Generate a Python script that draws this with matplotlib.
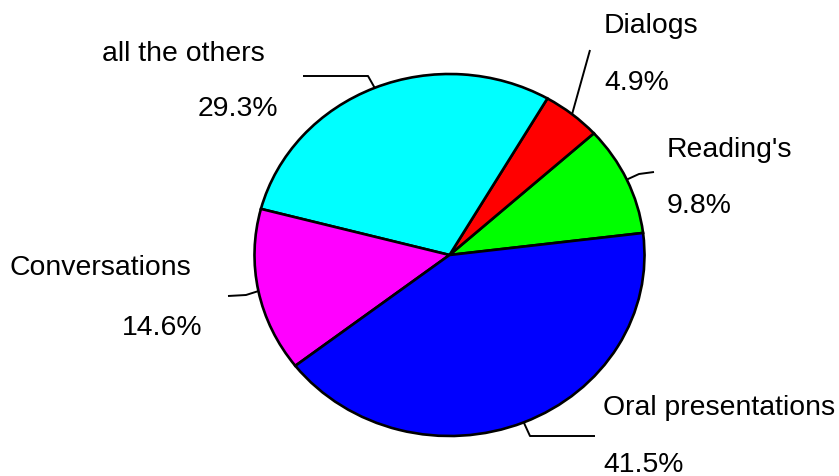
import numpy as np
import matplotlib
matplotlib.use("Agg")
import matplotlib.pyplot as plt

# ---- data ----
categories = ["Reading's", "Dialogs", "all the others", "Conversations", "Oral presentations"]
values = [9.8, 4.9, 29.3, 14.6, 41.5]
pct_labels = ["9.8%", "4.9%", "29.3%", "14.6%", "41.5%"]
colors = ["#00FF00", "#FF0000", "#00FFFF", "#FF00FF", "#0000FF"]

# ---- layout (pixels, origin top-left) ----
W, H = 839, 477
CX, CY, RX, RY = 449.5, 256.0, 195.0, 181.0
START = 7.0

def px(x, y):
    return ((x - CX) / RX, (CY - y) / RY)

# label layout: (name x, name baseline y, pct x, pct baseline y, ha)
label_pos = {
    "Reading's": (667, 157, 667, 213, "left"),
    "Dialogs": (604, 33, 604, 90, "left"),
    "all the others": (265, 61, 278, 116, "right"),
    "Conversations": (191, 275, 202, 335, "right"),
    "Oral presentations": (603, 415, 603, 472, "left"),
}
# leader knee/end points (pixels)
leader_pts = {
    "Reading's": [(639, 175), (654, 173)],
    "Dialogs": [(590, 51)],
    "all the others": [(368, 77), (303, 77)],
    "Conversations": [(246, 296), (228, 297)],
    "Oral presentations": [(530, 437), (595, 437)],
}

fig = plt.figure(figsize=(W / 100, H / 100), dpi=100)
ax = fig.add_axes([0, 0, 1, 1])
wedges, _ = ax.pie(values, colors=colors, startangle=START, counterclock=True,
                   radius=1.0, center=(0, 0),
                   wedgeprops=dict(edgecolor="black", linewidth=1.9))
ax.set_aspect("auto")
ax.set_xlim((0 - CX) / RX, (W - CX) / RX)
ax.set_ylim((CY - H) / RY, (CY - 0) / RY)
ax.axis("off")

font = dict(family=["Liberation Sans", "DejaVu Sans"], fontsize=20.4, color="black")

for w, name, pct in zip(wedges, categories, pct_labels):
    mid = np.deg2rad((w.theta1 + w.theta2) / 2)
    sx, sy = np.cos(mid), np.sin(mid)
    pts = [(sx, sy)] + [px(*p) for p in leader_pts[name]]
    xs, ys = zip(*pts)
    ax.plot(xs, ys, color="black", lw=1.4, solid_capstyle="butt")
    nx, ny, qx, qy, ha = label_pos[name]
    ax.text(*px(nx, ny), name, ha=ha, va="baseline", **font)
    ax.text(*px(qx, qy), pct, ha=ha, va="baseline", **font)

fig.savefig("out.png", dpi=100, facecolor="white")
